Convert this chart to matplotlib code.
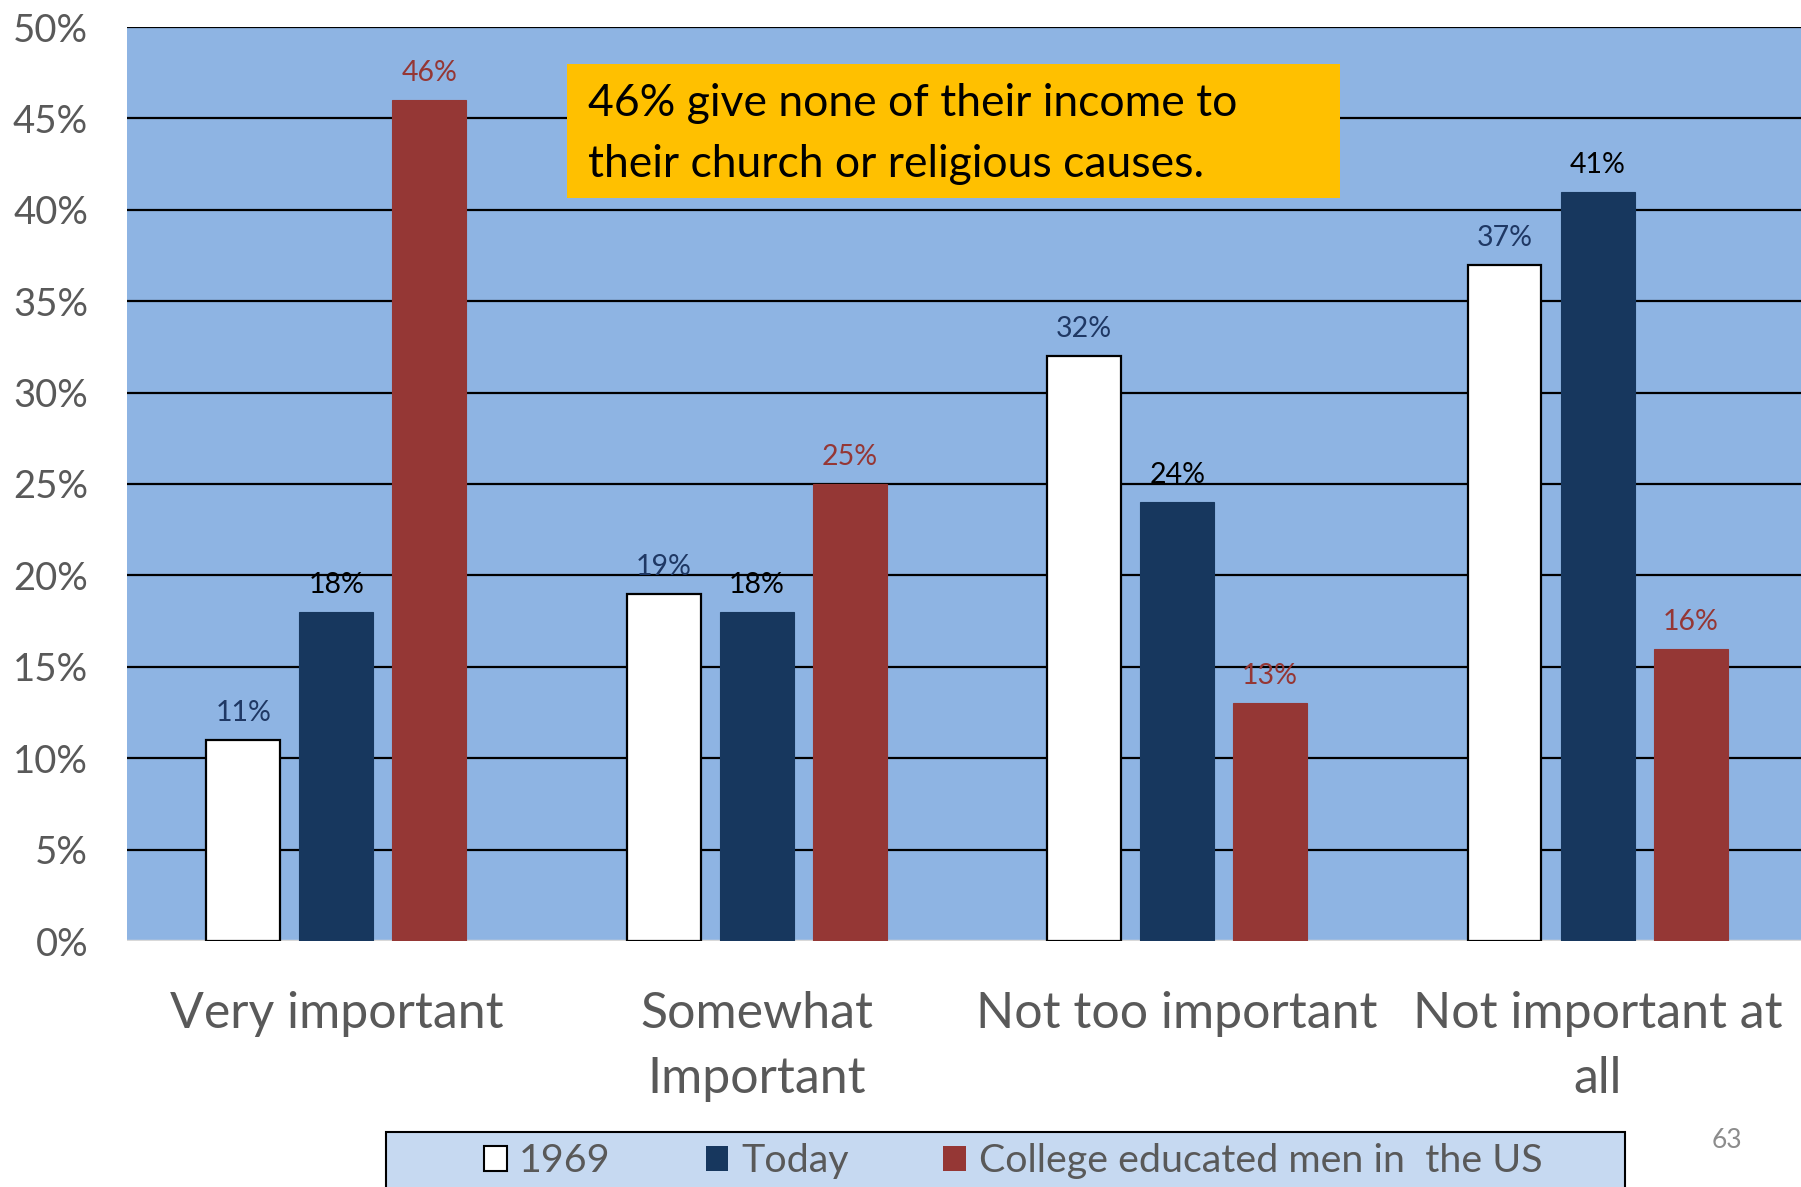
import matplotlib
matplotlib.use("Agg")
import matplotlib.pyplot as plt
from matplotlib.patches import Rectangle, Patch
import numpy as np

categories = ["Very important", "Somewhat\nImportant", "Not too important", "Not important at\nall"]
series_names = ["1969", "Today", "College educated men in  the US"]
v1969 = [11, 19, 32, 37]
vtoday = [18, 18, 24, 41]
vcollege = [46, 25, 13, 16]
yticks = [0, 5, 10, 15, 20, 25, 30, 35, 40, 45, 50]
annotation = "46% give none of their income to\ntheir church or religious causes."
page_no = "63"

FONT = "Lato"
plt.rcParams["font.family"] = [FONT, "DejaVu Sans"]

W, H = 1801, 1187
fig = plt.figure(figsize=(W / 100, H / 100), dpi=100)
fig.patch.set_facecolor("white")

def fx(px):
    return px / W

def fy(py):
    return 1 - py / H

ax = fig.add_axes([fx(127), fy(941), 1 - fx(127), fy(27) - fy(941)])
ax.set_facecolor("#8EB4E3")
ax.set_xlim(-0.498, 3.484)
ax.set_ylim(0, 50)

x = np.arange(len(categories))
step = 0.2213
bw = 0.176
series = [v1969, vtoday, vcollege]
fills = ["white", "#17375E", "#953735"]
edges = ["black", "#17375E", "#953735"]
label_colors = ["#1F3864", "black", "#953735"]

for i, (vals, fc, ec, lc) in enumerate(zip(series, fills, edges, label_colors)):
    xs = x + (i - 1) * step
    ax.bar(xs, vals, width=bw, color=fc, edgecolor=ec,
           linewidth=1.6 if i == 0 else 0.8, zorder=3)
    for xx, v in zip(xs, vals):
        ax.annotate(f"{v}%", (xx, v), xytext=(0, 10), textcoords="offset points",
                    ha="center", va="bottom", fontsize=20.5, color=lc, zorder=4)

for t in yticks[1:]:
    ax.axhline(t, color="black", lw=1.6, zorder=1)
ax.axhline(0, color="#D9D9D9", lw=2.5, zorder=2)

ax.set_yticks(yticks)
ax.set_yticklabels([f"{t}%" for t in yticks], fontsize=27.5, color="#595959")
ax.tick_params(axis="y", length=0, pad=28)
ax.set_xticks(x)
ax.set_xticklabels(categories, fontsize=36, color="#595959", linespacing=1.52)
ax.tick_params(axis="x", length=0, pad=36)
for s in ax.spines.values():
    s.set_visible(False)

# annotation box
fig.patches.append(Rectangle((fx(567), fy(198)), fx(1340) - fx(567), fy(64) - fy(198),
                             transform=fig.transFigure, facecolor="#FFC000",
                             edgecolor="none", zorder=5))
fig.text(fx(588), fy(134), annotation, fontsize=32, color="black", ha="left",
         va="center", linespacing=1.58, zorder=6)

# legend box
fig.patches.append(Rectangle((fx(386), fy(1200)), fx(1625) - fx(386), fy(1132) - fy(1200),
                             transform=fig.transFigure, facecolor="#C6D9F1",
                             edgecolor="black", linewidth=1.5, zorder=5))
handles = [Patch(facecolor=fills[i], edgecolor="black" if i == 0 else fills[i],
                 linewidth=1.5 if i == 0 else 0) for i in range(3)]
leg = fig.legend(handles, series_names, loc="center", bbox_to_anchor=(fx(1013), fy(1161)),
                 ncol=3, frameon=False, fontsize=28.4, handlelength=0.58, handleheight=0.6,
                 handletextpad=0.32, columnspacing=2.4, labelcolor="#595959",
                 borderpad=0, borderaxespad=0)
leg.set_zorder(6)

fig.text(fx(1727), fy(1141), page_no, fontsize=19, color="#8C8C8C", ha="center", va="center")

fig.savefig("out.png", dpi=100)
